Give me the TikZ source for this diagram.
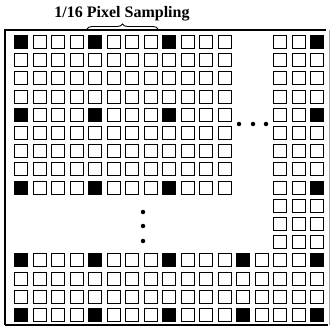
\documentclass[tikz,border=0pt]{standalone}
\usepackage{fontspec}
\setmainfont{Liberation Serif}
\usetikzlibrary{decorations.pathreplacing}
\tikzset{
  pixel/.style={draw, line width=1pt, minimum size=13pt, inner sep=0pt, fill=white},
  sample/.style={pixel, fill=black},
  dotmark/.style={circle, fill=black, inner sep=0pt, minimum size=4.5pt},
  edge/.style={line width=1.6pt},
  title/.style={font=\fontsize{16}{18}\bfseries\selectfont}
}
% one block of pixels: rows #1..#2, columns #3..#4
\newcommand\pixelblock[4]{%
  \foreach \r in {#1,...,#2} \foreach \c in {#3,...,#4}
    \node[pixel] (p-\r-\c) at ({21+18.5*\c},{42+18.2*\r}) {};}
\begin{document}
\begin{tikzpicture}[x=1pt, y=-1pt]
  \useasboundingbox (0,0) rectangle (331,328);
  % frame
  \draw[edge] (5,325) -- (5,30) -- (326,30);
  \draw[edge] (5,325) -- (328,325);
  \draw[line width=0.6pt, black!35] (329,30) -- (329,325);
  % pixels
  \pixelblock{0}{8}{0}{11}
  \pixelblock{0}{11}{14}{16}
  \pixelblock{12}{15}{0}{16}
  % sampled pixels
  \foreach \r in {0,4,8} \foreach \c in {0,4,8,16}
    \node[sample] (s-\r-\c) at (p-\r-\c) {};
  \foreach \r in {12,15} \foreach \c in {0,4,8,12,16}
    \node[sample] (s-\r-\c) at (p-\r-\c) {};
  % ellipses
  \foreach \x [count=\i] in {239,253,266}
    \node[dotmark] (h\i) at (\x,124) {};
  \foreach \y [count=\i] in {212,226,241}
    \node[dotmark] (v\i) at (143,\y) {};
  % brace and title
  \coordinate (bl) at (87,29);
  \coordinate (br) at (158,29);
  \draw[line width=0.9pt, decorate, decoration={brace, amplitude=5pt}] (bl) -- (br);
  \node[title] (t) at (122,14) {1/16 Pixel Sampling};
\end{tikzpicture}
\end{document}
